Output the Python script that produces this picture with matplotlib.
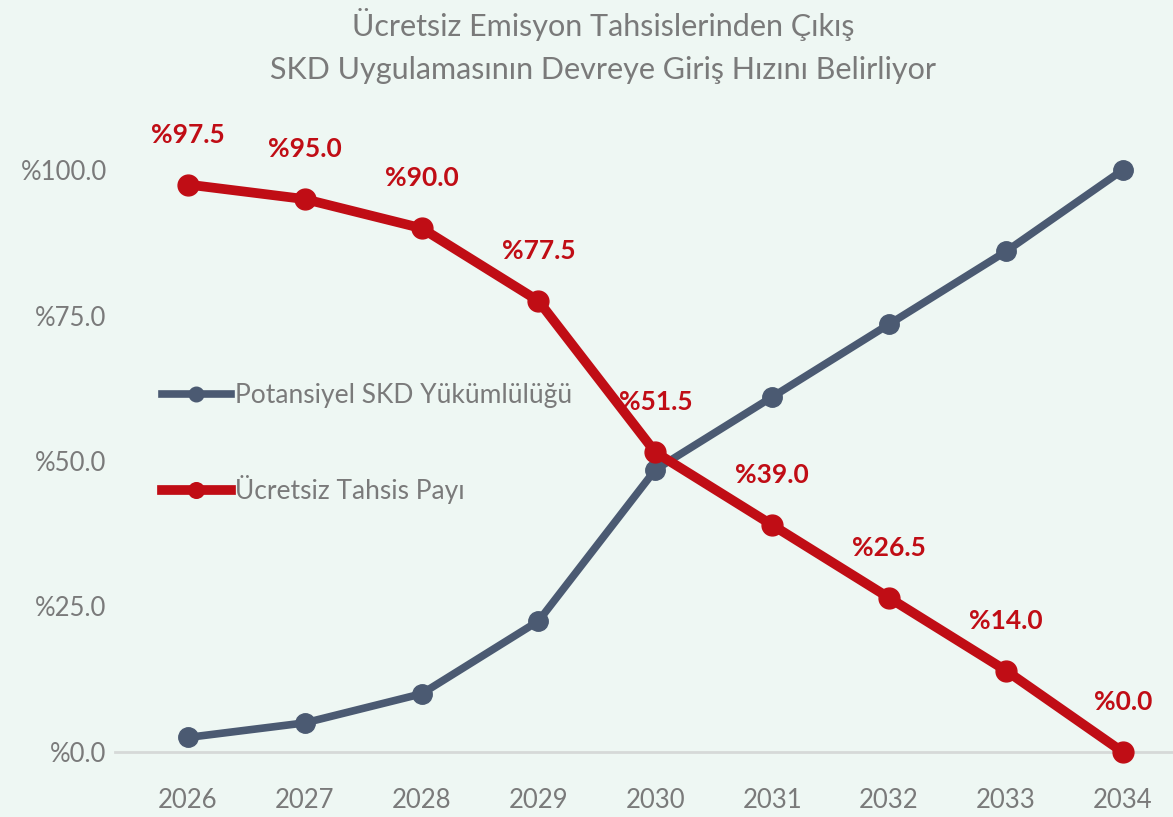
import matplotlib
matplotlib.use("Agg")
import matplotlib.pyplot as plt

years = [2026, 2027, 2028, 2029, 2030, 2031, 2032, 2033, 2034]
skd_share = [2.5, 5.0, 10.0, 22.5, 48.5, 61.0, 73.5, 86.0, 100.0]
free_share = [97.5, 95.0, 90.0, 77.5, 51.5, 39.0, 26.5, 14.0, 0.0]
y_ticks = [0, 25, 50, 75, 100]

title = "Ücretsiz Emisyon Tahsislerinden Çıkış\nSKD Uygulamasının Devreye Giriş Hızını Belirliyor"
skd_label = "Potansiyel SKD Yükümlülüğü"
free_label = "Ücretsiz Tahsis Payı"

bg = "#eef7f3"
red = "#c00d15"
blue = "#4b5a72"
gray = "#7a7a7a"

plt.rcParams["font.family"] = ["Lato", "DejaVu Sans"]

fig = plt.figure(figsize=(11.73, 8.17), dpi=100, facecolor=bg)
ax = fig.add_axes([115 / 1173, 65 / 817, 1 - 115 / 1173, 582 / 817])
ax.set_facecolor(bg)

ax.plot(years, skd_share, color=blue, lw=5.5, marker="o", ms=14,
        label=skd_label, clip_on=False, zorder=3)
ax.plot(years, free_share, color=red, lw=7, marker="o", ms=15,
        label=free_label, clip_on=False, zorder=4)

for x, v in zip(years, free_share):
    ax.annotate(f"%{v:.1f}", (x, v), xytext=(0, 36), textcoords="offset points",
                ha="center", va="center", color=red, fontsize=19, fontweight="bold",
                annotation_clip=False)

ax.set_xlim(2025.376, 2034.43)
ax.set_ylim(0, 100)
ax.set_xticks(years)
ax.set_xticklabels([str(y) for y in years])
ax.set_yticks(y_ticks)
ax.set_yticklabels([f"%{t:.1f}" for t in y_ticks])
ax.tick_params(axis="both", length=0, labelsize=18.5, colors=gray)
ax.tick_params(axis="x", pad=26)
ax.tick_params(axis="y", pad=6)

for s in ["top", "right", "left"]:
    ax.spines[s].set_visible(False)
ax.spines["bottom"].set_color("#d6d9d8")
ax.spines["bottom"].set_linewidth(2)

leg = ax.legend(loc="upper left", bbox_to_anchor=(0.022, 0.675), frameon=False,
                fontsize=19, handlelength=2.6, handletextpad=0.15, labelspacing=2.55,
                labelcolor=gray, markerscale=0.75)

fig.text(0.514, 0.99, title, ha="center", va="top", fontsize=22, color=gray,
         linespacing=1.65)

fig.savefig("out.png", dpi=100, facecolor=bg)
